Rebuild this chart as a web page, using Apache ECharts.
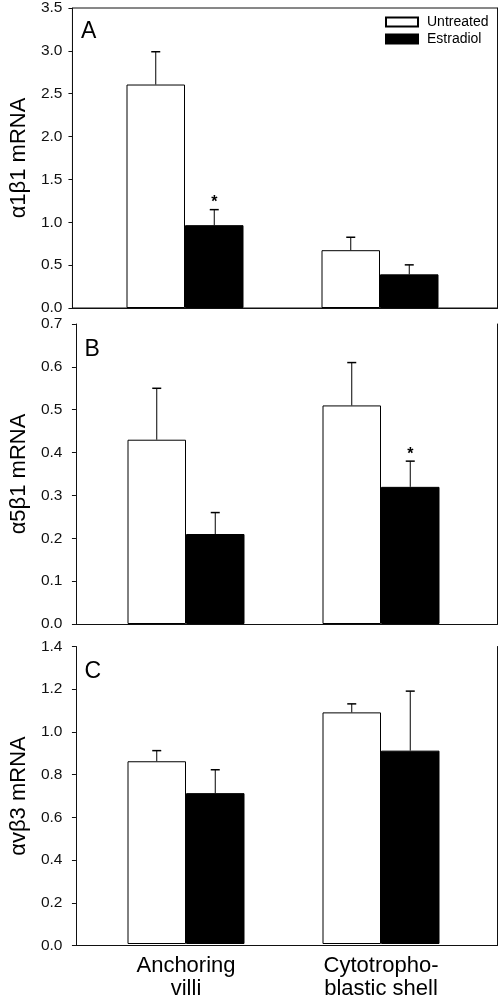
<!DOCTYPE html>
<html>
<head>
<meta charset="utf-8">
<script src="https://cdn.jsdelivr.net/npm/echarts@6/dist/echarts.min.js"></script>
<style>
html,body{margin:0;padding:0;background:#fff;}
#chart{width:500px;height:1000px;}
</style>
</head>
<body>
<div id="chart"></div>
<script>
// ---- data ----
const categories = ['Anchoring\nvilli', 'Cytotropho-\nblastic shell'];
const seriesNames = ['Untreated', 'Estradiol'];
const panelLetters = ['A', 'B', 'C'];
const yNames = ['\u03b11\u03b21 mRNA', '\u03b15\u03b21 mRNA', '\u03b1v\u03b23 mRNA'];
const yMax = [3.5, 0.7, 1.4];
const yInterval = [0.5, 0.1, 0.2];
const yDecimals = [1, 1, 1];

const aUntreated = [2.59, 0.67];
const aUntreatedSem = [0.38, 0.15];
const aEstradiol = [0.96, 0.39];
const aEstradiolSem = [0.18, 0.11];
const aSig = [true, false];

const bUntreated = [0.43, 0.51];
const bUntreatedSem = [0.12, 0.10];
const bEstradiol = [0.21, 0.32];
const bEstradiolSem = [0.05, 0.06];
const bSig = [false, true];

const cUntreated = [0.86, 1.09];
const cUntreatedSem = [0.05, 0.04];
const cEstradiol = [0.71, 0.91];
const cEstradiolSem = [0.11, 0.28];
const cSig = [false, false];

const panels = [
  {u: aUntreated, us: aUntreatedSem, e: aEstradiol, es: aEstradiolSem, sig: aSig},
  {u: bUntreated, us: bUntreatedSem, e: bEstradiol, es: bEstradiolSem, sig: bSig},
  {u: cUntreated, us: cUntreatedSem, e: cEstradiol, es: cEstradiolSem, sig: cSig}
];

// ---- layout ----
const FONT = 'Liberation Sans, Arial, sans-serif';
const frameLeft = [67, 70.5, 70.5];
const frameRight = 2.5;
const panelTop = [6, 324, 646.5];
const panelHeight = [302, 300, 299];
const innerLeft = [87.5, 88.5, 88.5];
const innerRight = [22.5, 21.5, 21.5];
const labelMargin = [10, 13.5, 13.5];
const nameGap = [42, 45.5, 45.5];
const AXIS = '#111';

const grid = [], xAxis = [], yAxis = [], series = [], title = [];

panels.forEach((p, i) => {
  const fg = grid.length;
  grid.push({left: frameLeft[i], right: frameRight, top: panelTop[i], height: panelHeight[i],
    show: i === 0, borderColor: AXIS, borderWidth: 1, backgroundColor: 'transparent'});
  const dg = grid.length;
  grid.push({left: innerLeft[i], right: innerRight[i], top: panelTop[i], height: panelHeight[i]});

  // frame axes
  const fx = xAxis.length;
  xAxis.push({gridIndex: fg, type: 'value', min: 0, max: 1, show: true,
    axisLine: {show: true, onZero: false, lineStyle: {color: AXIS, width: 1}},
    axisTick: {show: false}, axisLabel: {show: false}, splitLine: {show: false}});
  const fy = yAxis.length;
  yAxis.push({gridIndex: fg, type: 'value', min: 0, max: yMax[i], interval: yInterval[i],
    name: yNames[i], nameLocation: 'middle', nameGap: nameGap[i],
    nameTextStyle: {fontFamily: FONT, fontSize: 22, color: '#000'},
    axisLine: {show: true, lineStyle: {color: AXIS, width: 1}},
    axisTick: {show: true, length: 4, inside: false, lineStyle: {color: AXIS}},
    axisLabel: {margin: labelMargin[i], fontFamily: FONT, fontSize: 15.5, color: '#111',
      formatter: v => v.toFixed(yDecimals[i])},
    splitLine: {show: false}});
  yAxis.push({gridIndex: fg, type: 'value', position: 'right', min: 0, max: yMax[i],
    axisLine: {show: true, lineStyle: {color: AXIS, width: 1}},
    axisTick: {show: false}, axisLabel: {show: false}, splitLine: {show: false}});
  series.push({type: 'line', xAxisIndex: fx, yAxisIndex: fy, data: [], silent: true});

  // data axes
  const dx = xAxis.length;
  xAxis.push({gridIndex: dg, type: 'category', data: categories,
    axisLine: {show: false}, axisTick: {show: false},
    axisLabel: {show: i === 2, margin: 10, fontFamily: FONT, fontSize: 22, lineHeight: 23, color: '#000'}});
  const dy = yAxis.length;
  yAxis.push({gridIndex: dg, type: 'value', min: 0, max: yMax[i], interval: yInterval[i], show: false});

  series.push({name: seriesNames[0], type: 'bar', xAxisIndex: dx, yAxisIndex: dy,
    data: p.u, barGap: '0%', barCategoryGap: '40%',
    itemStyle: {color: '#fff', borderColor: '#000', borderWidth: 1}});
  series.push({name: seriesNames[1], type: 'bar', xAxisIndex: dx, yAxisIndex: dy,
    data: p.e, barGap: '0%', barCategoryGap: '40%',
    itemStyle: {color: '#000', borderColor: '#000', borderWidth: 1}});

  const errData = [];
  p.u.forEach((v, c) => errData.push([c, 0, v, v + p.us[c], 0]));
  p.e.forEach((v, c) => errData.push([c, 1, v, v + p.es[c], p.sig[c] ? 1 : 0]));
  series.push({type: 'custom', xAxisIndex: dx, yAxisIndex: dy, data: errData, silent: true, z: 5,
    renderItem: function (params, api) {
      const cat = api.value(0), s = api.value(1), mean = api.value(2), up = api.value(3), sig = api.value(4);
      const band = api.size([1, 0])[0];
      const base = api.coord([cat, mean]);
      const top = api.coord([cat, up]);
      const x = base[0] + (s === 0 ? -0.15 : 0.15) * band;
      const children = [
        {type: 'line', shape: {x1: x, y1: base[1], x2: x, y2: top[1]}, style: {stroke: '#000', lineWidth: 1}},
        {type: 'line', shape: {x1: x - 4.5, y1: top[1], x2: x + 4.5, y2: top[1]}, style: {stroke: '#000', lineWidth: 1.5}}
      ];
      if (sig) {
        children.push({type: 'text', style: {text: '*', x: x, y: top[1] - 7, align: 'center', verticalAlign: 'middle',
          font: 'bold 16px ' + FONT, fill: '#000'}});
      }
      return {type: 'group', children: children};
    }});

  title.push({text: panelLetters[i], left: frameLeft[i] + 9, top: panelTop[i] + 9,
    textStyle: {fontFamily: FONT, fontSize: 23, fontWeight: 'normal', color: '#000'}});
});

const chart = echarts.init(document.getElementById('chart'), null, {renderer: 'canvas'});
chart.setOption({
  animation: false,
  backgroundColor: '#fff',
  title: title,
  legend: {data: seriesNames, orient: 'vertical', left: 385, top: 15, padding: 0, itemWidth: 32, itemHeight: 9, itemGap: 3,
    icon: 'rect', selectedMode: false,
    textStyle: {fontFamily: FONT, fontSize: 14, color: '#000', padding: [0, 0, 0, 4]}},
  grid: grid,
  xAxis: xAxis,
  yAxis: yAxis,
  series: series
});
</script>
</body>
</html>
